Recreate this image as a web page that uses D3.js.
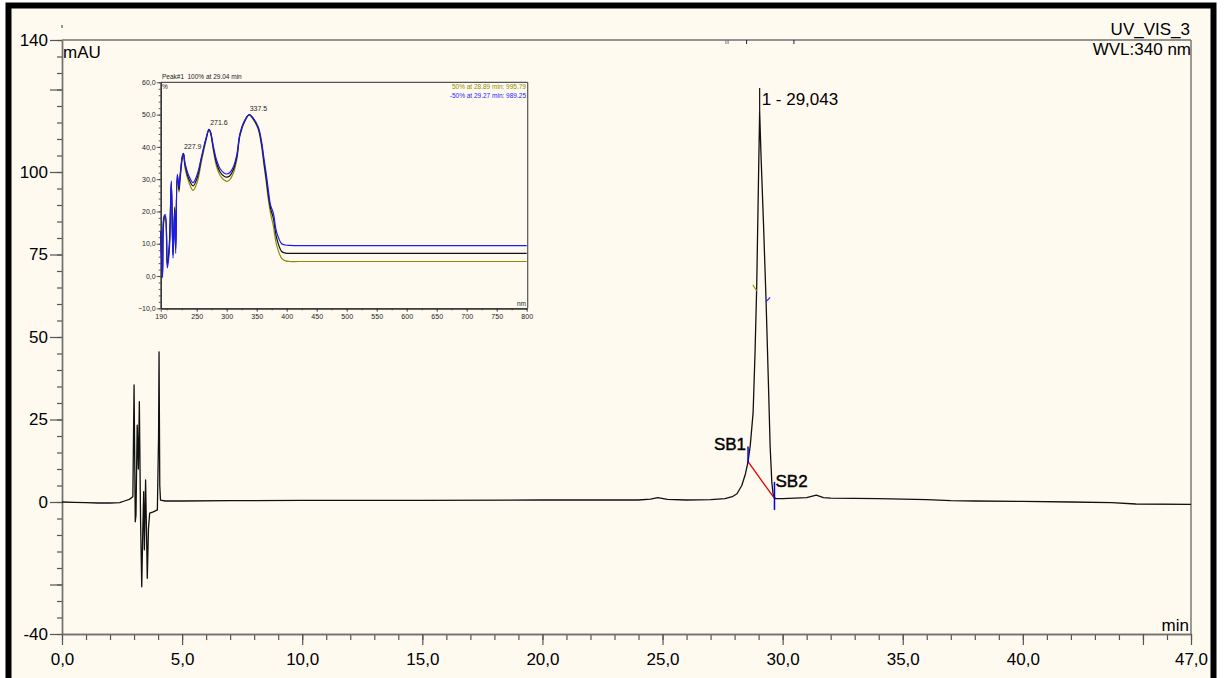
<!DOCTYPE html>
<html><head><meta charset="utf-8">
<script src="https://cdn.jsdelivr.net/npm/d3@7"></script>
<style>
html,body{margin:0;padding:0;background:#fff;}
svg{display:block;}
text{font-family:"Liberation Sans",Arial,Helvetica,sans-serif;}
</style></head><body>
<svg id="c" width="1225" height="678"></svg>
<script>
// ---------- main chromatogram data ----------
const chromTime = [0,0.5,1.0,1.5,2.0,2.4,2.6,2.8,2.95,3.0,3.05,3.08,3.13,3.18,3.22,3.27,3.32,3.36,3.40,3.43,3.48,3.52,3.55,3.60,3.65,3.8,3.97,4.02,4.04,4.07,4.10,4.3,5,7,10,15,20,24,24.5,24.8,25.2,26,27,27.6,27.9,28.1,28.3,28.45,28.56,28.65,28.77,28.85,28.92,29.0,29.043,29.1,29.2,29.31,29.4,29.48,29.55,29.61,29.7,30,30.5,31.0,31.4,31.7,32,33,34,35,36,37,38,40,42,43.7,44.7,47];
const chromMAU  = [0.0,-0.1,-0.2,-0.3,-0.3,-0.2,0.3,0.8,1.6,35.5,-6,-4,23.3,10,30.4,-5,-25.7,-10,3.1,-14.5,6.7,-10,-23.1,-8,-3.4,-3,-2.4,20,45.5,5,0.6,0.3,0.3,0.4,0.5,0.5,0.6,0.6,0.9,1.3,0.8,0.6,0.7,1.0,1.6,2.5,5,8.5,12.2,17,27,45,65,100,118.3,105,85,61,38,16.8,6,2,1.0,1.0,1.2,1.3,2.1,1.3,1.2,1.1,1.0,0.9,0.7,0.4,0.3,0.2,0,-0.2,-0.6,-0.7];

const xMajorTicks = [0,5,10,15,20,25,30,35,40,45,47];
const xLabelTicks = [0,5,10,15,20,25,30,35,40,47];
const yMajorTicks = [-40,-25,0,25,50,75,100,125,140];
const yLabelTicks = [-40,0,25,50,75,100,140];

const peakLabel = "1 - 29,043";
const peakTime = 29.043, peakValue = 118.3;
const sbLabels = ["SB1","SB2"];
const sbTimes = [28.56, 29.66];
const sbValues = [12.2, 1.1];
const sbTickTop = [16.8, 6.1];
const sbTickBottom = [11.8, -2.4];
const specMarkTimes = [[28.76,28.92],[29.31,29.48]];
const specMarkValues = [[65.8,64.0],[60.7,62.0]];
const topMarkTimes = [27.64,27.73,28.50,30.47];

// ---------- inset spectrum data ----------
const wavelengths = [190,193,195.5,197.7,201,204.4,207.7,210.5,213.3,215,217.7,220.5,222.2,226.6,228,230.5,237,244,251,258,265,270.5,273,277.7,283,288.8,295,300,305,311,317,322,330,337.5,345,352.6,358,362,366,369.3,373,377.7,383.3,391.6,398,405,420,450,500,600,700,800];
const specApex = [13.7,0.3,17.9,18.5,3.4,9.6,29.2,6.5,21,8.5,31.3,26.7,30.3,37.5,38.0,34.4,30,27.9,30.5,36.5,42,45.4,44.5,39.6,35,32.3,31,30.6,31,32.9,37,43.7,48,50,48.5,45.8,41,35.4,30,25.1,21,17.9,11.7,7.6,7.1,7.0,7.0,7.0,7.0,7.0,7.0,7.0];
const specUp = [13,0.8,17,18,4,10,28.5,7,21.5,9,30.5,26,29.5,37,37.8,33.5,29,26.5,29.2,35.5,41.5,45.2,44.2,39,34,31.2,29.8,29.3,29.8,31.8,36.2,43.3,47.8,49.8,48.3,45.4,40.3,34.5,29,23.8,19.5,15.5,9.5,5.5,4.7,4.5,4.5,4.5,4.5,4.5,4.5,4.5];
const specDown = [14,-0.5,18.5,19,2.5,8,29.5,5.5,20,7,31.5,27.5,31,37.5,37.8,35,31,28.9,31.5,37,42.3,45.4,44.7,40.3,36,33.3,32,31.6,32,33.8,37.7,44,48.2,50,48.7,46.2,41.8,36.5,31.5,26.8,22,19.5,13.5,10,9.6,9.5,9.4,9.4,9.4,9.4,9.4,9.4];
const specPeakNm = [227.9,271.6,337.5];
const specPeakPct = [38.0,45.4,50.0];
const insetXTicks = [190,250,300,350,400,450,500,550,600,650,700,750,800];
const insetYTicks = [-10,0,10,20,30,40,50,60];

const fmt = d => d3.format(".1f")(d).replace(".", ",");
const svg = d3.select("#c");
const cream = "#fffaf0";
const axisCol = "#707070";

// frame
svg.append("rect").attr("x",0).attr("y",0).attr("width",1225).attr("height",678).attr("fill","#fff");
svg.append("rect").attr("x",8.5).attr("y",5.5).attr("width",1205).attr("height",690)
  .attr("fill",cream).attr("stroke","#000").attr("stroke-width",6);

// scales
const x = d3.scaleLinear().domain([0,47]).range([62,1191]);
const y = d3.scaleLinear().domain([-40,140]).range([634,40]);

// frame lines (top, right)
svg.append("line").attr("x1",62).attr("x2",1191).attr("y1",40).attr("y2",40).attr("stroke",axisCol).attr("stroke-width",1.4);
svg.append("line").attr("x1",1191).attr("x2",1191).attr("y1",40).attr("y2",634).attr("stroke",axisCol).attr("stroke-width",1.4);

// x axis minor
const gxm = svg.append("g").attr("transform","translate(0,634)")
  .call(d3.axisBottom(x).tickValues(d3.range(0,48,1)).tickSize(6).tickSizeOuter(0).tickFormat(""));
// x axis major
const gx = svg.append("g").attr("transform","translate(0,634)")
  .call(d3.axisBottom(x).tickValues(xMajorTicks).tickSize(11).tickSizeOuter(0).tickPadding(8)
    .tickFormat(d => xLabelTicks.includes(d) ? fmt(d) : ""));
// y axis minor
const gym = svg.append("g").attr("transform","translate(62,0)")
  .call(d3.axisLeft(y).tickValues(d3.range(-40,141,5)).tickSize(5).tickSizeOuter(0).tickFormat(""));
const gy = svg.append("g").attr("transform","translate(62,0)")
  .call(d3.axisLeft(y).tickValues(yMajorTicks).tickSize(12).tickSizeOuter(0).tickPadding(2)
    .tickFormat(d => yLabelTicks.includes(d) ? String(d) : ""));
[gxm,gx,gym,gy].forEach(g=>{
  g.selectAll("path.domain").attr("stroke",axisCol).attr("stroke-width",1.4);
  g.selectAll("line").attr("stroke","#555").attr("stroke-width",1.2);
  g.selectAll("text").attr("fill","#000").style("font-size","17px").style("font-family","Liberation Sans, Arial, sans-serif");
});

// top integration marks
svg.selectAll("line.tm").data(topMarkTimes).enter().append("line")
  .attr("x1",d=>x(d)).attr("x2",d=>x(d)).attr("y1",40).attr("y2",44)
  .attr("stroke",(d,i)=> i<2 ? "#777" : "#222").attr("stroke-width",1);
svg.append("line").attr("x1",62).attr("x2",62).attr("y1",25).attr("y2",28).attr("stroke","#333");

// unit labels
svg.append("text").attr("x",63).attr("y",58).style("font-size","17px").text("mAU");
svg.append("text").attr("x",1189).attr("y",631).attr("text-anchor","end").style("font-size","17px").text("min");
svg.append("text").attr("x",1190).attr("y",35).attr("text-anchor","end").style("font-size","17px").text("UV_VIS_3");
svg.append("text").attr("x",1191).attr("y",55).attr("text-anchor","end").style("font-size","17px").text("WVL:340 nm");

// chromatogram trace
const pts = chromTime.map((t,i)=>[t,chromMAU[i]]);
svg.append("path").datum(pts)
  .attr("d", d3.line().x(d=>x(d[0])).y(d=>y(d[1])))
  .attr("fill","none").attr("stroke","#111").attr("stroke-width",1.3).attr("stroke-linejoin","round");

// peak label
svg.append("line").attr("x1",x(peakTime)).attr("x2",x(peakTime)).attr("y1",y(peakValue)).attr("y2",88)
  .attr("stroke","#111").attr("stroke-width",1.2);
svg.append("text").attr("x",x(peakTime)+2).attr("y",105).style("font-size","17px").text(peakLabel);

// SB baseline
svg.append("line").attr("x1",x(sbTimes[0])).attr("y1",y(sbValues[0])).attr("x2",x(sbTimes[1])).attr("y2",y(sbValues[1]))
  .attr("stroke","#e00000").attr("stroke-width",1.3);
sbTimes.forEach((t,i)=>{
  svg.append("line").attr("x1",x(t)).attr("x2",x(t)).attr("y1",y(sbTickTop[i])).attr("y2",y(sbTickBottom[i]))
    .attr("stroke","#0000ee").attr("stroke-width",1.5);
});
svg.append("text").attr("x",x(sbTimes[0])-2).attr("y",450).attr("text-anchor","end")
  .style("font-size","17px").attr("stroke","#000").attr("stroke-width",0.4).text(sbLabels[0]);
svg.append("text").attr("x",x(sbTimes[1])+1).attr("y",487)
  .style("font-size","17px").attr("stroke","#000").attr("stroke-width",0.4).text(sbLabels[1]);

// spectrum extraction marks
const markCols = ["#9a9a10","#2020ff"];
specMarkTimes.forEach((tt,i)=>{
  svg.append("line").attr("x1",x(tt[0])).attr("y1",y(specMarkValues[i][0])).attr("x2",x(tt[1])).attr("y2",y(specMarkValues[i][1]))
    .attr("stroke",markCols[i]).attr("stroke-width",1.2);
});

// ---------- inset ----------
const ix = d3.scaleLinear().domain([190,800]).range([160.7,526.7]);
const iy = d3.scaleLinear().domain([-10,60]).range([308.3,82.3]);
const inset = svg.append("g");
inset.append("line").attr("x1",160.7).attr("x2",527.7).attr("y1",82.3).attr("y2",82.3).attr("stroke","#555").attr("stroke-width",1.2);
inset.append("line").attr("x1",527.7).attr("x2",527.7).attr("y1",82.3).attr("y2",308.3).attr("stroke","#555").attr("stroke-width",1.2);
const ixm = inset.append("g").attr("transform","translate(0,308.3)")
  .call(d3.axisBottom(ix).tickValues(d3.range(200,801,25)).tickSize(2).tickSizeOuter(0).tickFormat(""));
const ixa = inset.append("g").attr("transform","translate(0,308.3)")
  .call(d3.axisBottom(ix).tickValues(insetXTicks).tickSize(3.5).tickSizeOuter(0).tickPadding(2).tickFormat(d=>String(d)));
const iym = inset.append("g").attr("transform","translate(160.7,0)")
  .call(d3.axisLeft(iy).tickValues(d3.range(-10,61,2)).tickSize(2).tickSizeOuter(0).tickFormat(""));
const iya = inset.append("g").attr("transform","translate(160.7,0)")
  .call(d3.axisLeft(iy).tickValues(insetYTicks).tickSize(4).tickSizeOuter(0).tickPadding(1).tickFormat(fmt));
[ixm,ixa,iym,iya].forEach(g=>{
  g.selectAll("path.domain").attr("stroke","#333").attr("stroke-width",1.2);
  g.selectAll("line").attr("stroke","#333").attr("stroke-width",0.8);
  g.selectAll("text").attr("fill","#222").style("font-size","7px").style("font-family","Liberation Sans Narrow, Liberation Sans, Arial, sans-serif");
});

const sline = d3.line().x(d=>ix(d[0])).y(d=>iy(d[1])).curve(d3.curveCatmullRom.alpha(0.5));
const series = [[specUp,"#8f8a00"],[specApex,"#111"],[specDown,"#1a1aff"]];
series.forEach(([vals,col])=>{
  inset.append("path").datum(wavelengths.map((w,i)=>[w,vals[i]]))
    .attr("d",sline).attr("fill","none").attr("stroke",col).attr("stroke-width",1.2);
});
specPeakNm.forEach((nm,i)=>{
  inset.append("text").attr("x",ix(nm)+0.5).attr("y",iy(specPeakPct[i])-4).attr("text-anchor","start")
    .style("font-size","7px").style("font-family","Liberation Sans Narrow, Liberation Sans, Arial, sans-serif").attr("fill","#222")
    .text(nm.toFixed(1));
});
const smallFont = "Liberation Sans Narrow, Liberation Sans, Arial, sans-serif";
inset.append("text").attr("x",162).attr("y",79).style("font-size","6.5px").style("font-family",smallFont).attr("fill","#222").text("Peak#1");
inset.append("text").attr("x",187.5).attr("y",79).style("font-size","6.5px").style("font-family",smallFont).attr("fill","#222").text("100% at 29.04 min");
inset.append("text").attr("x",162).attr("y",89).style("font-size","6.5px").style("font-family",smallFont).attr("fill","#222").text("%");
inset.append("text").attr("x",526).attr("y",306).attr("text-anchor","end").style("font-size","6.5px").style("font-family",smallFont).attr("fill","#222").text("nm");
inset.append("text").attr("x",526).attr("y",89).attr("text-anchor","end").style("font-size","6.5px").style("font-family",smallFont).attr("fill","#8f8a00").text("50% at 28.89 min: 995.79");
inset.append("text").attr("x",526).attr("y",98).attr("text-anchor","end").style("font-size","6.5px").style("font-family",smallFont).attr("fill","#1a1aff").text("-50% at 29.27 min: 989.25");
</script>
</body></html>
